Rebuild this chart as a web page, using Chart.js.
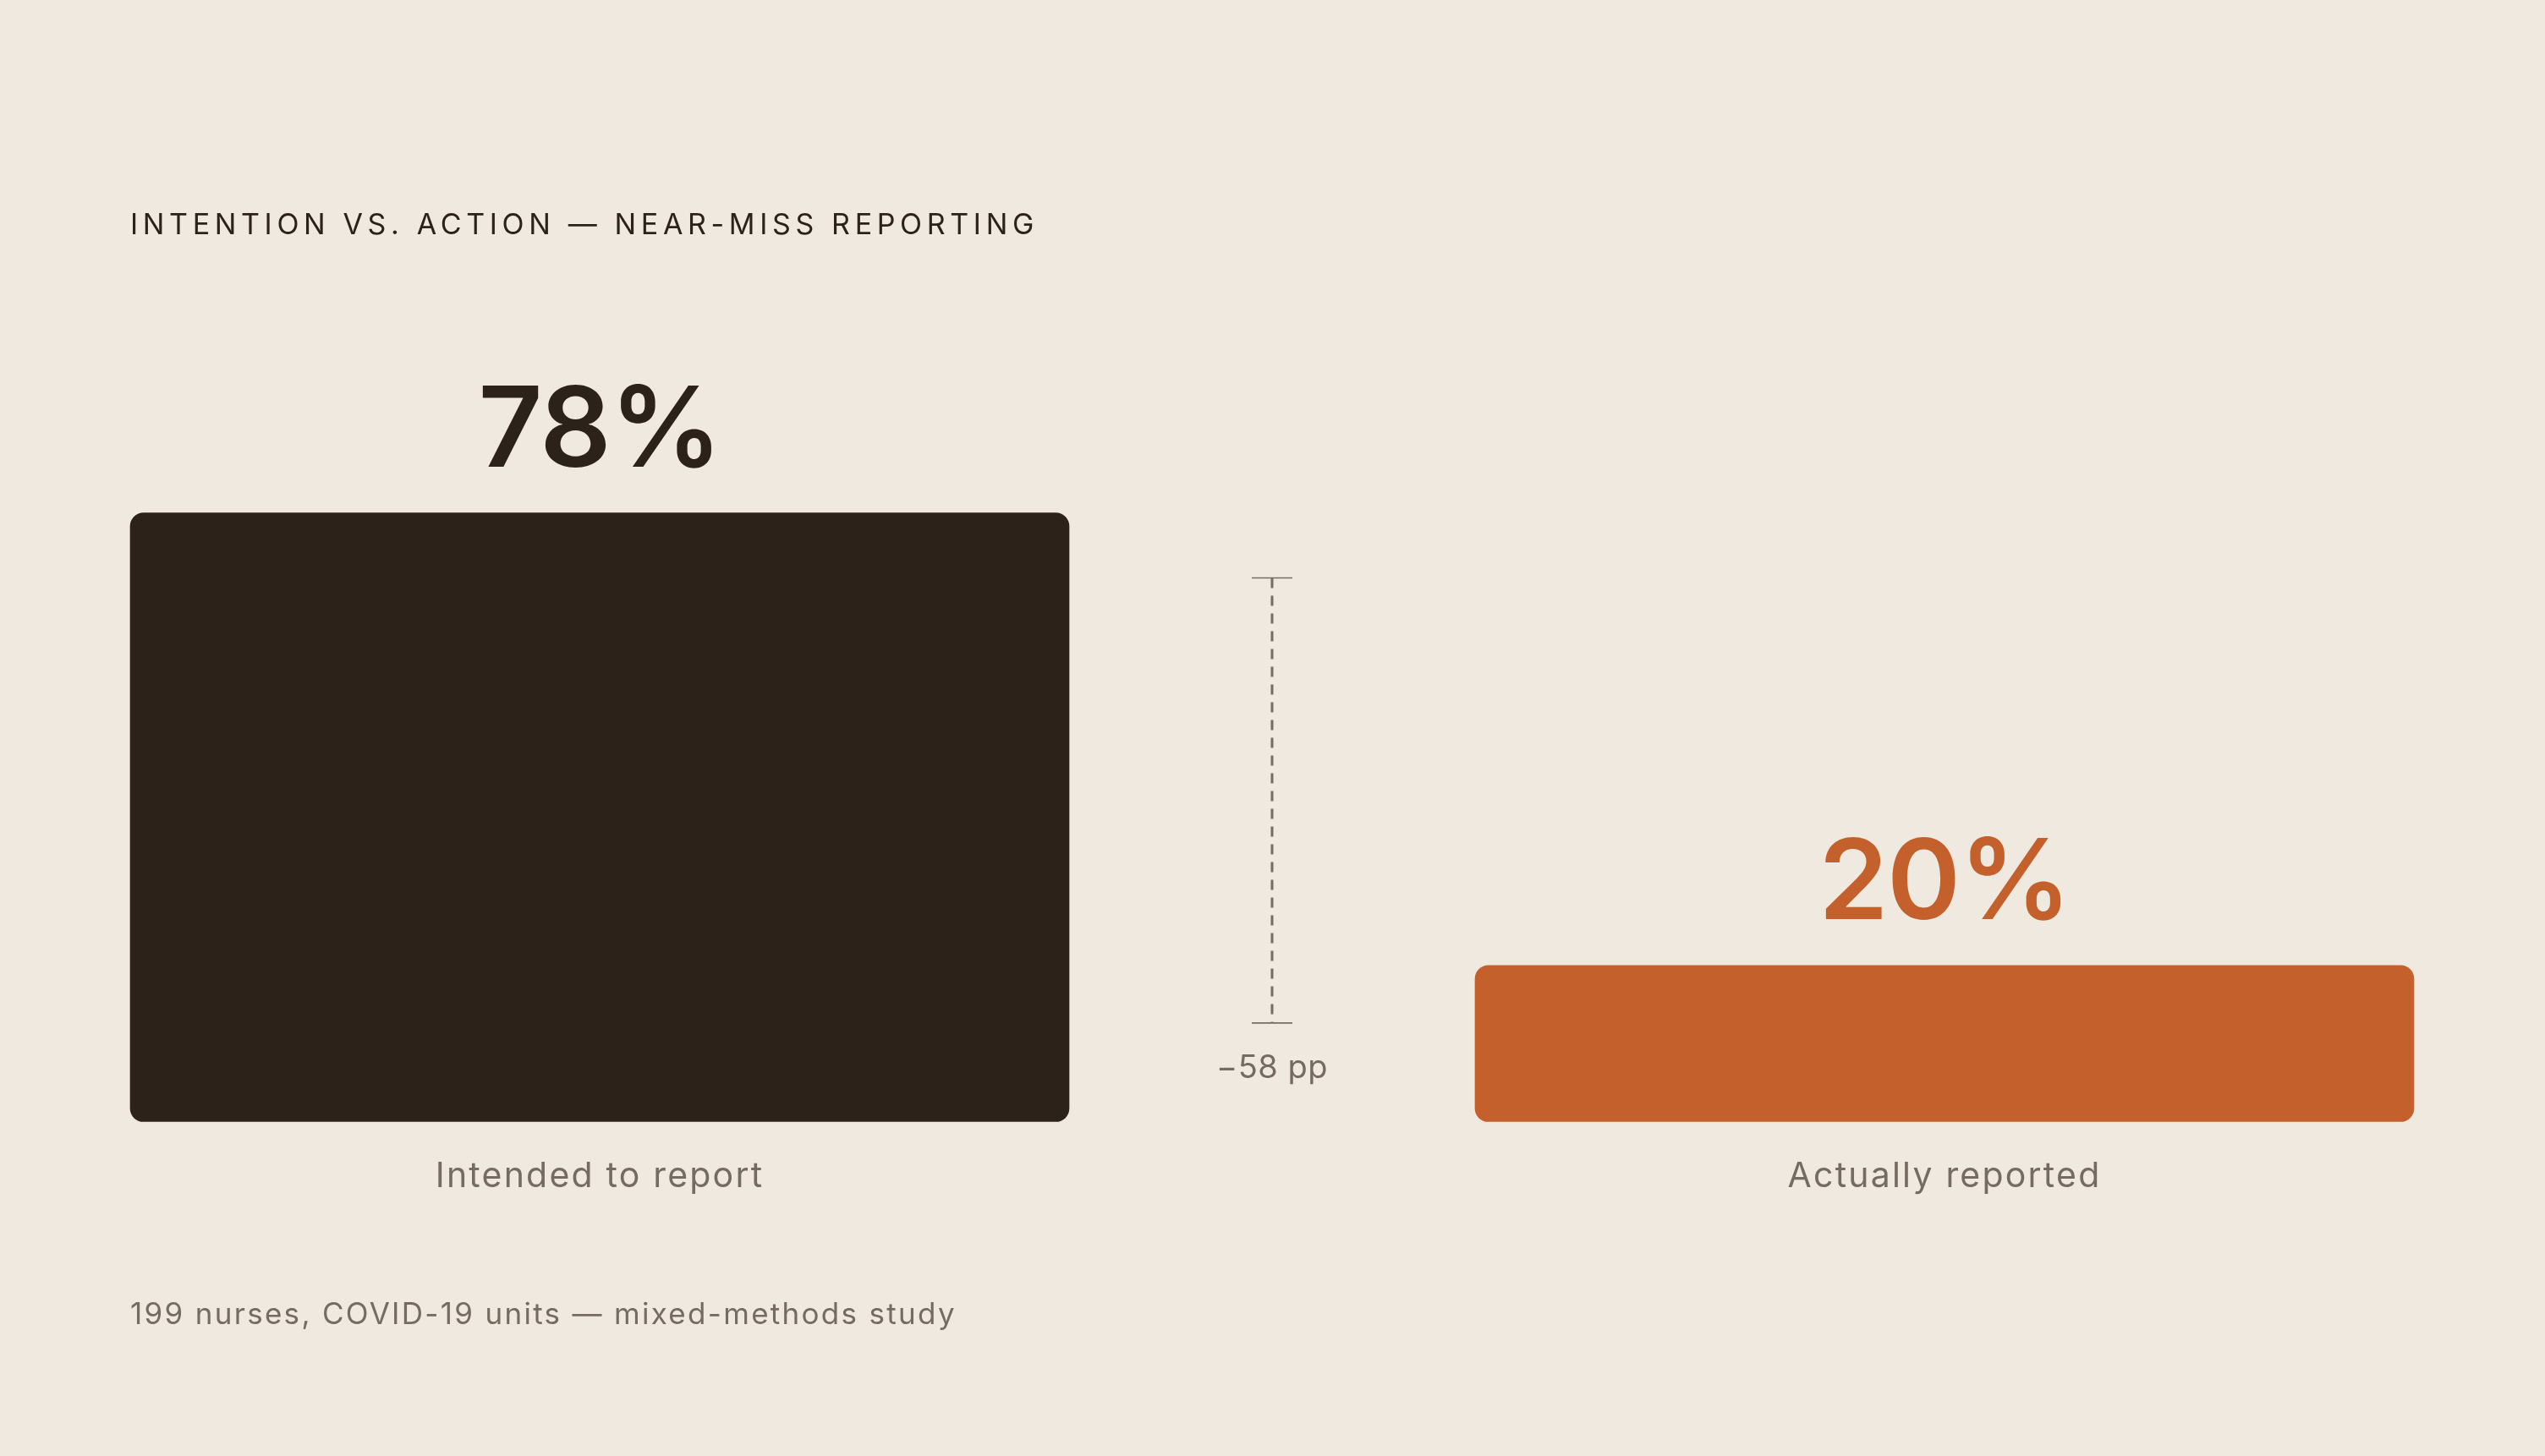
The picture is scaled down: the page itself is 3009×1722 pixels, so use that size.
<!DOCTYPE html>
<html>
<head>
<meta charset="utf-8">
<script src="https://cdn.jsdelivr.net/npm/chart.js@4"></script>
<style>
  html, body { margin: 0; padding: 0; background: #f0e9df; }
  #wrap { position: relative; width: 3009px; height: 1722px; }
</style>
</head>
<body>
<div id="wrap"><canvas id="chart"></canvas></div>
<script>
// Intention vs. action: near-miss reporting
const CATEGORIES = ['Intended to report', '', 'Actually reported'];
const VALUES     = [78, null, 20];
const BAR_COLORS = ['#2d2219', 'rgba(0,0,0,0)', '#c4602c'];
const TITLE  = 'INTENTION VS. ACTION — NEAR-MISS REPORTING';
const FOOTER = '199 nurses, COVID-19 units — mixed-methods study';
const FONT = 'Inter, "DejaVu Sans", sans-serif';

const textPlugin = {
  id: 'texts',
  afterDatasetsDraw(chart) {
    const { ctx } = chart;
    const x = chart.scales.x, y = chart.scales.y;
    ctx.save();
    ctx.textBaseline = 'alphabetic';

    // title
    ctx.fillStyle = '#2d2219';
    ctx.font = `400 34px ${FONT}`;
    ctx.letterSpacing = '5.65px';
    ctx.textAlign = 'left';
    ctx.fillText(TITLE, 154, 277);

    // footer
    ctx.fillStyle = '#766b60';
    ctx.font = `400 35px ${FONT}`;
    ctx.letterSpacing = '2.3px';
    ctx.fillText(FOOTER, 154, 1566);

    // value labels + category labels
    ctx.textAlign = 'center';
    CATEGORIES.forEach((cat, i) => {
      if (VALUES[i] == null) return;
      const cx = x.getPixelForValue(i);
      ctx.letterSpacing = '-1.5px';
      ctx.font = `600 132px ${FONT}`;
      ctx.fillStyle = BAR_COLORS[i];
      ctx.fillText(VALUES[i] + '%', cx, y.getPixelForValue(VALUES[i]) - 55);
      ctx.letterSpacing = '2.2px';
      ctx.font = `400 41px ${FONT}`;
      ctx.fillStyle = '#766b60';
      ctx.fillText(cat, cx, 1404);
    });

    // gap bracket
    const bx = x.getPixelForValue(1);
    const top = y.getPixelForValue(VALUES[0]) + 77;
    const bot = y.getPixelForValue(VALUES[2]) + 68;
    ctx.strokeStyle = '#776c60';
    ctx.lineWidth = 3;
    ctx.setLineDash([12, 9]);
    ctx.beginPath();
    ctx.moveTo(bx, top);
    ctx.lineTo(bx, bot);
    ctx.stroke();
    ctx.setLineDash([]);
    ctx.lineWidth = 1.6;
    ctx.beginPath();
    ctx.moveTo(bx - 24, top); ctx.lineTo(bx + 24, top);
    ctx.moveTo(bx - 24, bot); ctx.lineTo(bx + 24, bot);
    ctx.stroke();

    ctx.fillStyle = '#766b60';
    ctx.font = `400 38px ${FONT}`;
    ctx.letterSpacing = '0.5px';
    ctx.fillText('\u2212' + (VALUES[0] - VALUES[2]) + ' pp', bx, bot + 65);
    ctx.restore();
  }
};

new Chart(document.getElementById('chart'), {
  type: 'bar',
  data: {
    labels: CATEGORIES,
    datasets: [{
      data: VALUES,
      backgroundColor: BAR_COLORS,
      borderRadius: 16,
      borderSkipped: false,
      barThickness: 1110,
      clip: false,
    }],
  },
  options: {
    responsive: true,
    maintainAspectRatio: false,
    animation: false,
    layout: { padding: { left: 311.5, right: 312.5, top: 403.5, bottom: 395.5 } },
    plugins: { legend: { display: false }, tooltip: { enabled: false } },
    scales: {
      x: { display: false },
      y: { display: false, min: 0, max: 100 },
    },
  },
  plugins: [textPlugin],
});
</script>
</body>
</html>
